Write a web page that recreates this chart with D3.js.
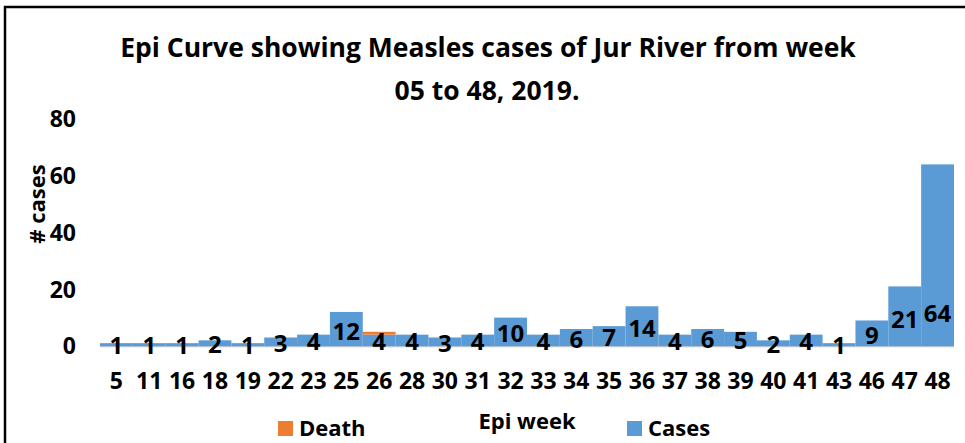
<!DOCTYPE html>
<html>
<head>
<meta charset="utf-8">
<script src="https://cdn.jsdelivr.net/npm/d3@7.9.0/dist/d3.min.js"></script>
<style>
  html, body { margin: 0; padding: 0; background: #fff; }
  svg text { font-family: "Open Sans", sans-serif; font-weight: bold; fill: #000; }
</style>
</head>
<body>
<svg id="chart" width="965" height="443"></svg>
<script>
// epi weeks on the x axis
const weeks = ["5", "11", "16", "18", "19", "22", "23", "25", "26", "28", "30", "31", "32",
               "33", "34", "35", "36", "37", "38", "39", "40", "41", "43", "46", "47", "48"];
// measles cases per week
const cases = [1, 1, 1, 2, 1, 3, 4, 12, 4, 4, 3, 4, 10, 4, 6, 7, 14, 4, 6, 5, 2, 4, 1, 9, 21, 64];
// deaths per week
const deaths = [0, 0, 0, 0, 0, 0, 0, 0, 1, 0, 0, 0, 0, 0, 0, 0, 0, 0, 0, 0, 0, 0, 0, 0, 0, 0];
const yTicks = [0, 20, 40, 60, 80];

const blue = "#5B9BD5", orange = "#ED7D31";

const svg = d3.select("#chart");

// frame (only left and top visible)
svg.append("path")
    .attr("d", "M5,443 V7 H965")
    .attr("fill", "none")
    .attr("stroke", "#000")
    .attr("stroke-width", 2.5);

// title
svg.append("text").attr("x", 488).attr("y", 57).attr("text-anchor", "middle")
    .attr("font-size", 26.5).text("Epi Curve showing Measles cases of Jur River from week");
svg.append("text").attr("x", 487).attr("y", 100).attr("text-anchor", "middle")
    .attr("font-size", 26.5).text("05 to 48, 2019.");

const x = d3.scaleBand().domain(weeks).range([100, 954]).padding(0);
const y = d3.scaleLinear().domain([0, 80]).range([346, 119]);
// data labels sit lower than the bar tops in the original
const labelOffset = d3.scaleLinear().domain([0, 21, 64]).range([-1, 27, 33]).clamp(true);

// y tick labels
svg.append("g").selectAll("text")
    .data(yTicks)
    .join("text")
    .attr("x", 76)
    .attr("y", d => y(d))
    .attr("dy", "0.36em")
    .attr("text-anchor", "end")
    .attr("font-size", 23)
    .text(d => d);

// y title
svg.append("text")
    .attr("transform", "translate(45,204) rotate(-90)")
    .attr("text-anchor", "middle")
    .attr("font-size", 22)
    .text("# cases");

// axis line
svg.append("line")
    .attr("x1", 100).attr("x2", 954)
    .attr("y1", y(0) + 0.5).attr("y2", y(0) + 0.5)
    .attr("stroke", "#b4c3d3").attr("stroke-width", 1.5);

// cases bars
svg.append("g").selectAll("rect")
    .data(weeks)
    .join("rect")
    .attr("x", d => x(d))
    .attr("width", x.bandwidth())
    .attr("y", (d, i) => y(cases[i]))
    .attr("height", (d, i) => y(0) - y(cases[i]))
    .attr("fill", blue);

// death bars stacked on top
svg.append("g").selectAll("rect")
    .data(weeks.filter((d, i) => deaths[i] > 0))
    .join("rect")
    .attr("x", d => x(d))
    .attr("width", x.bandwidth())
    .attr("y", d => { const i = weeks.indexOf(d); return y(cases[i] + deaths[i]); })
    .attr("height", d => { const i = weeks.indexOf(d); return y(cases[i]) - y(cases[i] + deaths[i]); })
    .attr("fill", orange);

// data labels
svg.append("g").selectAll("text")
    .data(weeks)
    .join("text")
    .attr("x", d => x(d) + x.bandwidth() / 2)
    .attr("y", (d, i) => y(0) - labelOffset(cases[i]))
    .attr("dy", "0.36em")
    .attr("text-anchor", "middle")
    .attr("font-size", 24)
    .text((d, i) => cases[i]);

// x tick labels
svg.append("g").selectAll("text")
    .data(weeks)
    .join("text")
    .attr("x", d => x(d) + x.bandwidth() / 2)
    .attr("y", 381)
    .attr("dy", "0.36em")
    .attr("text-anchor", "middle")
    .attr("font-size", 23)
    .text(d => d);

// x title
svg.append("text").attr("x", 527).attr("y", 429).attr("text-anchor", "middle")
    .attr("font-size", 22).text("Epi week");

// legend
const legend = [{ name: "Death", color: orange, x: 278 }, { name: "Cases", color: blue, x: 627 }];
const lg = svg.append("g").selectAll("g").data(legend).join("g")
    .attr("transform", d => `translate(${d.x},421)`);
lg.append("rect").attr("width", 15).attr("height", 15).attr("fill", d => d.color);
lg.append("text").attr("x", 21).attr("y", 15).attr("font-size", 22).text(d => d.name);
</script>
</body>
</html>
